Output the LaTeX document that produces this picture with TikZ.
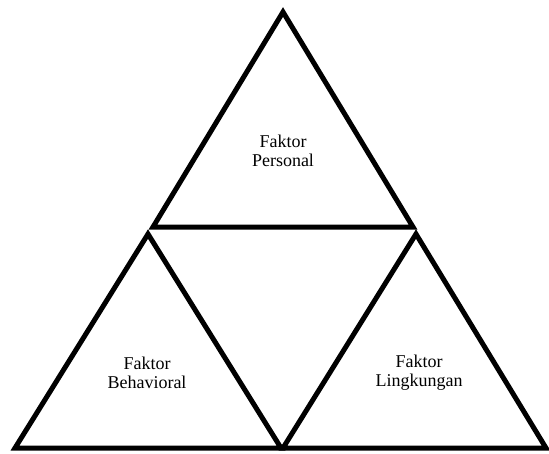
\documentclass[tikz,border=0pt]{standalone}
\usepackage{fontspec}
\setmainfont{Liberation Serif}

\begin{document}
\begin{tikzpicture}[
    x=1pt, y=-1pt,
    tri/.style={draw=black, line width=5pt, line join=miter},
    factor/.style={align=center, font=\fontsize{18}{19}\selectfont, inner sep=0pt}
]
    \useasboundingbox (0,0) rectangle (549,453);

    % Corners
    \coordinate (pTop)   at (283,12);
    \coordinate (pLeft)  at (153,227);
    \coordinate (pRight) at (413,227);
    \coordinate (bTop)   at (148,234);
    \coordinate (bLeft)  at (15,448);
    \coordinate (bRight) at (281,448);
    \coordinate (lTop)   at (416,234);
    \coordinate (lLeft)  at (283,448);
    \coordinate (lRight) at (546,448);

    % Triangles
    \draw [tri] (pTop) -- (pRight) -- (pLeft) -- cycle;
    \draw [tri] (bTop) -- (bRight) -- (bLeft) -- cycle;
    \draw [tri] (lTop) -- (lRight) -- (lLeft) -- cycle;

    % Labels
    \node [factor] (personal)   at (283,151) {Faktor\\Personal};
    \node [factor] (behavioral) at (147,373) {Faktor\\Behavioral};
    \node [factor] (lingkungan) at (419,373) {Faktor\\Lingkungan};
\end{tikzpicture}
\end{document}
